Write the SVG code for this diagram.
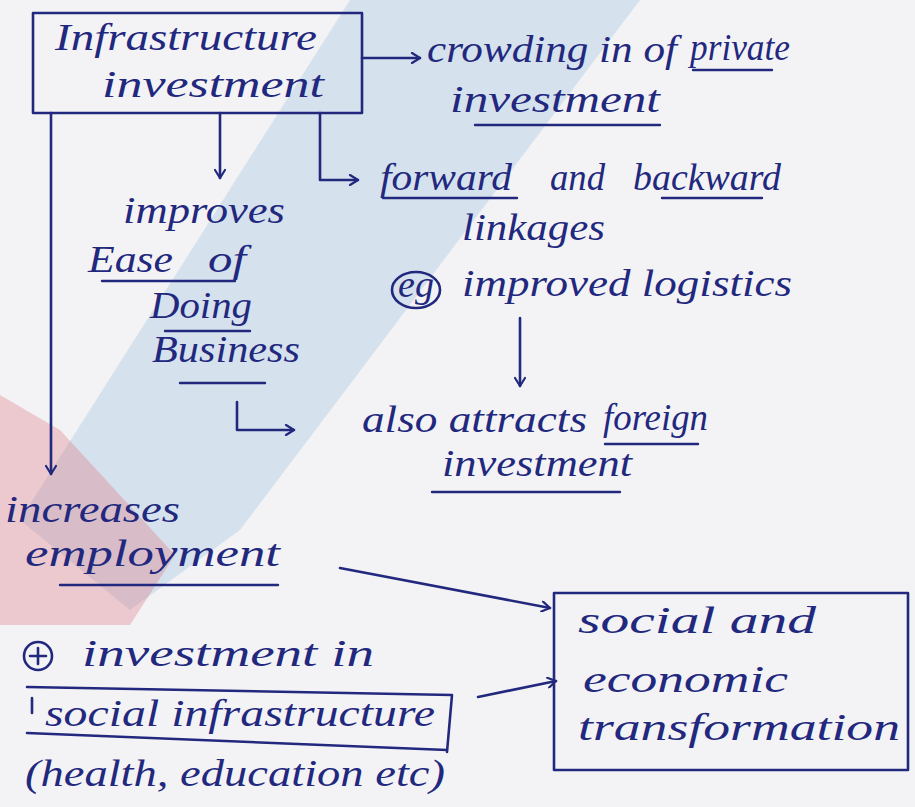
<svg xmlns="http://www.w3.org/2000/svg" width="915" height="807" viewBox="0 0 915 807">
  <defs>
    <style>
      .ink { fill: #22287e; font-family: "Liberation Serif", "DejaVu Serif", serif; font-style: italic; font-size: 38px; }
      .line { fill: none; stroke: #22287e; stroke-width: 2.6; stroke-linecap: round; stroke-linejoin: round; }
      .ul { fill: none; stroke: #22287e; stroke-width: 2.4; stroke-linecap: round; }
      .wm-blue { fill: #6ea5d0; opacity: 0.22; }
      .wm-red { fill: #e07a86; opacity: 0.35; }
    </style>
    <marker id="arrow" viewBox="0 0 12 12" refX="10" refY="6" markerWidth="12" markerHeight="12" markerUnits="userSpaceOnUse" orient="auto">
      <path d="M2,1 L10,6 L2,11" fill="none" stroke="#22287e" stroke-width="2.2" stroke-linecap="round" stroke-linejoin="round"/>
    </marker>
  </defs>

  <!-- paper -->
  <rect width="915" height="807" fill="#f3f3f5"/>

  <!-- faint watermark tint -->
  <g id="watermark">
    <polygon class="wm-blue" points="350,0 640,0 240,530 130,610 20,520"/>
    <polygon class="wm-red" points="0,395 60,430 175,555 130,625 0,625"/>
  </g>

  <!-- connectors -->
  <g id="connectors">
    <!-- box -> crowding in -->
    <path class="line" d="M362,58 L420,58" marker-end="url(#arrow)"/>
    <!-- box -> forward and backward -->
    <path class="line" d="M320,113 L320,180 L358,180" marker-end="url(#arrow)"/>
    <!-- box -> improves ease of doing business -->
    <path class="line" d="M220,113 L220,178" marker-end="url(#arrow)"/>
    <!-- box -> increases employment -->
    <path class="line" d="M51,113 L51,474" marker-end="url(#arrow)"/>
    <!-- improved logistics -> foreign investment -->
    <path class="line" d="M520,318 L520,386" marker-end="url(#arrow)"/>
    <!-- ease of doing business -> foreign investment -->
    <path class="line" d="M237,402 L237,430 L294,430" marker-end="url(#arrow)"/>
    <!-- employment -> transformation -->
    <path class="line" d="M340,568 L550,608" marker-end="url(#arrow)"/>
    <!-- social infrastructure -> transformation -->
    <path class="line" d="M478,697 L556,681" marker-end="url(#arrow)"/>
  </g>

  <!-- infrastructure investment -->
  <g id="node-infra">
    <rect class="line" x="33" y="13" width="329" height="100"/>
    <text class="ink" x="55" y="50" textLength="262" lengthAdjust="spacingAndGlyphs">Infrastructure</text>
    <text class="ink" x="102" y="97" textLength="222" lengthAdjust="spacingAndGlyphs">investment</text>
  </g>

  <!-- crowding in of private investment -->
  <g id="node-crowding">
    <text class="ink" x="427" y="62" textLength="250" lengthAdjust="spacingAndGlyphs">crowding in of</text>
    <text class="ink" x="690" y="60" textLength="100" lengthAdjust="spacingAndGlyphs">private</text>
    <line class="ul" x1="693" y1="70" x2="772" y2="70"/>
    <text class="ink" x="450" y="112" textLength="210" lengthAdjust="spacingAndGlyphs">investment</text>
    <line class="ul" x1="475" y1="125" x2="660" y2="125"/>
  </g>

  <!-- forward and backward linkages -->
  <g id="node-linkages">
    <text class="ink" x="380" y="190" textLength="132" lengthAdjust="spacingAndGlyphs">forward</text>
    <text class="ink" x="550" y="190" textLength="55" lengthAdjust="spacingAndGlyphs">and</text>
    <text class="ink" x="633" y="190" textLength="148" lengthAdjust="spacingAndGlyphs">backward</text>
    <line class="ul" x1="383" y1="198" x2="517" y2="198"/>
    <line class="ul" x1="662" y1="198" x2="762" y2="198"/>
    <text class="ink" x="462" y="240" textLength="143" lengthAdjust="spacingAndGlyphs">linkages</text>
    <ellipse class="line" cx="416" cy="290" rx="24" ry="18"/>
    <text class="ink" x="416" y="297" font-size="24" text-anchor="middle">eg</text>
    <text class="ink" x="462" y="296" textLength="330" lengthAdjust="spacingAndGlyphs">improved logistics</text>
  </g>

  <!-- improves ease of doing business -->
  <g id="node-ease">
    <text class="ink" x="123" y="223" textLength="162" lengthAdjust="spacingAndGlyphs">improves</text>
    <text class="ink" x="88" y="272" textLength="85" lengthAdjust="spacingAndGlyphs">Ease</text>
    <text class="ink" x="208" y="272" textLength="38" lengthAdjust="spacingAndGlyphs">of</text>
    <line class="ul" x1="102" y1="281" x2="235" y2="281"/>
    <text class="ink" x="150" y="318" textLength="102" lengthAdjust="spacingAndGlyphs">Doing</text>
    <line class="ul" x1="165" y1="331" x2="250" y2="331"/>
    <text class="ink" x="152" y="362" textLength="148" lengthAdjust="spacingAndGlyphs">Business</text>
    <line class="ul" x1="180" y1="383" x2="265" y2="383"/>
  </g>

  <!-- also attracts foreign investment -->
  <g id="node-foreign">
    <text class="ink" x="362" y="432" textLength="225" lengthAdjust="spacingAndGlyphs">also attracts</text>
    <text class="ink" x="603" y="430" textLength="105" lengthAdjust="spacingAndGlyphs">foreign</text>
    <line class="ul" x1="605" y1="444" x2="698" y2="444"/>
    <text class="ink" x="442" y="476" textLength="190" lengthAdjust="spacingAndGlyphs">investment</text>
    <line class="ul" x1="432" y1="492" x2="620" y2="492"/>
  </g>

  <!-- increases employment -->
  <g id="node-employment">
    <text class="ink" x="5" y="522" textLength="175" lengthAdjust="spacingAndGlyphs">increases</text>
    <text class="ink" x="25" y="566" textLength="255" lengthAdjust="spacingAndGlyphs">employment</text>
    <line class="ul" x1="60" y1="585" x2="278" y2="585"/>
  </g>

  <!-- investment in social infrastructure -->
  <g id="node-social-infra">
    <circle class="line" cx="38" cy="656" r="14"/>
    <path class="line" d="M30,656 L46,656 M38,648 L38,664" stroke-width="2"/>
    <text class="ink" x="82" y="666" textLength="292" lengthAdjust="spacingAndGlyphs">investment in</text>
    <path class="line" d="M27,687 L452,695 L447,752 M27,733 L447,750 M32,698 L32,713"/>
    <text class="ink" x="45" y="726" textLength="390" lengthAdjust="spacingAndGlyphs">social infrastructure</text>
    <text class="ink" x="25" y="786" textLength="420" lengthAdjust="spacingAndGlyphs">(health, education etc)</text>
  </g>

  <!-- social and economic transformation -->
  <g id="node-transformation">
    <rect class="line" x="554" y="593" width="354" height="177"/>
    <text class="ink" x="578" y="633" textLength="238" lengthAdjust="spacingAndGlyphs">social and</text>
    <text class="ink" x="583" y="692" textLength="205" lengthAdjust="spacingAndGlyphs">economic</text>
    <text class="ink" x="578" y="740" textLength="322" lengthAdjust="spacingAndGlyphs">transformation</text>
  </g>
</svg>
